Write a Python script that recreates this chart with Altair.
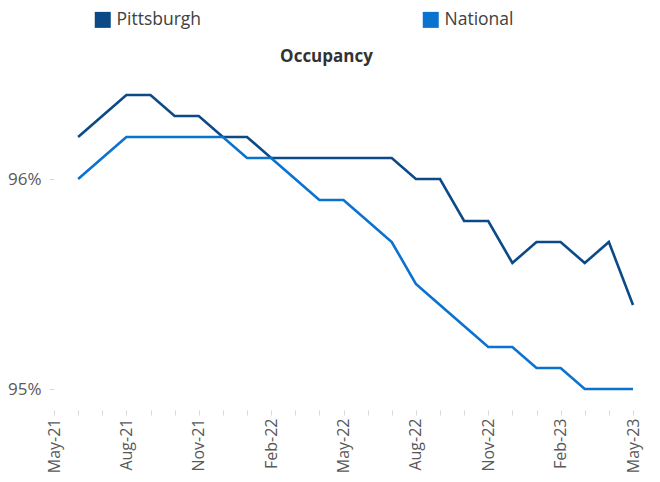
import altair as alt
import pandas as pd

months = ["May-21", "Jun-21", "Jul-21", "Aug-21", "Sep-21", "Oct-21", "Nov-21", "Dec-21",
          "Jan-22", "Feb-22", "Mar-22", "Apr-22", "May-22", "Jun-22", "Jul-22", "Aug-22",
          "Sep-22", "Oct-22", "Nov-22", "Dec-22", "Jan-23", "Feb-23", "Mar-23", "Apr-23", "May-23"]

series = ["Pittsburgh", "National"]
colors = ["#0B4A86", "#0A72CF"]

# values start at Jun-21 (no data for May-21)
pittsburgh = [96.2, 96.3, 96.4, 96.4, 96.3, 96.3, 96.2, 96.2, 96.1, 96.1, 96.1, 96.1,
              96.1, 96.1, 96.0, 96.0, 95.8, 95.8, 95.6, 95.7, 95.7, 95.6, 95.7, 95.4]
national = [96.0, 96.1, 96.2, 96.2, 96.2, 96.2, 96.2, 96.1, 96.1, 96.0, 95.9, 95.9,
            95.8, 95.7, 95.5, 95.4, 95.3, 95.2, 95.2, 95.1, 95.1, 95.0, 95.0, 95.0]

y_ticks = [95, 96]

rows = []
for name, vals in zip(series, [pittsburgh, national]):
    for i, v in enumerate(vals):
        rows.append({"idx": i + 1, "month": months[i + 1], "series": name, "value": v})
df = pd.DataFrame(rows)

month_arr = "[" + ",".join("'" + m + "'" for m in months) + "]"

font = "Open Sans"

chart = alt.Chart(df).mark_line(strokeWidth=2.6).encode(
    x=alt.X("idx:Q",
            scale=alt.Scale(domain=[0, len(months) - 1], nice=False, zero=False),
            axis=alt.Axis(values=list(range(len(months))),
                          labelExpr=f"datum.value % 3 == 0 ? {month_arr}[datum.value] : ''",
                          labelAngle=270, labelAlign="right", labelBaseline="middle",
                          labelFont=font, labelFontSize=16, labelColor="#595959",
                          labelPadding=3, tickColor="#D9D9D9", tickSize=5,
                          domain=False, grid=False, title=None, labelOverlap=False)),
    y=alt.Y("value:Q",
            scale=alt.Scale(domain=[94.9, 96.5], nice=False, zero=False),
            axis=alt.Axis(values=y_ticks, labelExpr="datum.value + '%'",
                          labelFont=font, labelFontSize=17, labelColor="#595959",
                          labelPadding=8, tickColor="#D9D9D9", tickSize=5,
                          domain=False, grid=False, title=None)),
    color=alt.Color("series:N",
                    scale=alt.Scale(domain=series, range=colors),
                    legend=alt.Legend(title=None, orient="none", direction="horizontal",
                                      legendX=40, legendY=-63,
                                      symbolType="square", symbolSize=64,
                                      symbolStrokeWidth=8,
                                      labelFont=font, labelFontSize=17.5,
                                      labelColor="#404040", columnPadding=208,
                                      labelOffset=5)),
).properties(
    width=579,
    height=336,
    title=alt.TitleParams("Occupancy", font=font, fontSize=17, fontWeight="bold",
                          color="#333333", anchor="middle", frame="group",
                          dx=-17, offset=-55),
    autosize=alt.AutoSizeParams(type="none"),
    padding={"left": 46, "top": 66, "right": 19, "bottom": 64},
).configure_view(stroke=None)

chart.save("out.html", embed_options={"renderer": "svg", "actions": False})
